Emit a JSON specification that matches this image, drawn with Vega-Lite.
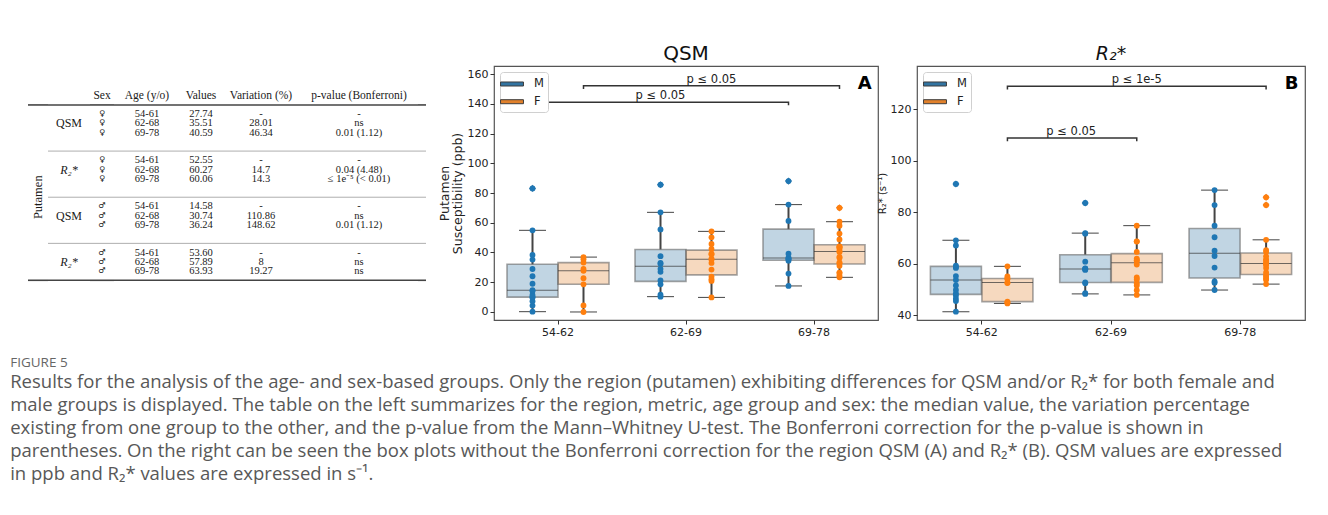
{
"$schema": "https://vega.github.io/schema/vega-lite/v6.json",
"padding": {"left": 10, "top": 43, "right": 5, "bottom": 10},
"bounds": "flush",
"spacing": 0,
"title": {
  "text": "FIGURE 5",
  "subtitle": [
    "Results for the analysis of the age- and sex-based groups. Only the region (putamen) exhibiting differences for QSM and/or R₂* for both female and",
    "male groups is displayed. The table on the left summarizes for the region, metric, age group and sex: the median value, the variation percentage",
    "existing from one group to the other, and the p-value from the Mann–Whitney U-test. The Bonferroni correction for the p-value is shown in",
    "parentheses. On the right can be seen the box plots without the Bonferroni correction for the region QSM (A) and R₂* (B). QSM values are expressed",
    "in ppb and R₂* values are expressed in s⁻¹."
  ],
  "orient": "bottom", "anchor": "start", "frame": "bounds", "offset": 18, "dx": -17,
  "font": "Open Sans", "fontSize": 13.5, "fontWeight": "normal", "color": "#666",
  "subtitleFont": "Open Sans", "subtitleFontSize": 18.5, "subtitleColor": "#585858", "subtitleLineHeight": 23, "subtitlePadding": 4
},
"datasets": {
  "tbl": [
    {"c":"hd","l":"h","t":"Sex","col":"sex"},{"c":"hd","l":"h","t":"Age (y/o)","col":"age"},{"c":"hd","l":"h","t":"Values","col":"val"},{"c":"hd","l":"h","t":"Variation (%)","col":"var"},{"c":"hd","l":"h","t":"p-value (Bonferroni)","col":"pv"},
    {"c":"put","l":"s4","t":"Putamen"},
    {"c":"met","l":"qf2","t":"QSM"},{"c":"met","l":"rf2","t":"R₂*"},{"c":"met","l":"qm2","t":"QSM"},{"c":"met","l":"rm2","t":"R₂*"},
    {"c":"sx","l":"qf1","t":"♀"},{"c":"sx","l":"qf2","t":"♀"},{"c":"sx","l":"qf3","t":"♀"},
    {"c":"sx","l":"rf1","t":"♀"},{"c":"sx","l":"rf2","t":"♀"},{"c":"sx","l":"rf3","t":"♀"},
    {"c":"sx","l":"qm1","t":"♂"},{"c":"sx","l":"qm2","t":"♂"},{"c":"sx","l":"qm3","t":"♂"},
    {"c":"sx","l":"rm1","t":"♂"},{"c":"sx","l":"rm2","t":"♂"},{"c":"sx","l":"rm3","t":"♂"},
    {"c":"age","l":"qf1","t":"54-61"},{"c":"age","l":"qf2","t":"62-68"},{"c":"age","l":"qf3","t":"69-78"},
    {"c":"age","l":"rf1","t":"54-61"},{"c":"age","l":"rf2","t":"62-68"},{"c":"age","l":"rf3","t":"69-78"},
    {"c":"age","l":"qm1","t":"54-61"},{"c":"age","l":"qm2","t":"62-68"},{"c":"age","l":"qm3","t":"69-78"},
    {"c":"age","l":"rm1","t":"54-61"},{"c":"age","l":"rm2","t":"62-68"},{"c":"age","l":"rm3","t":"69-78"},
    {"c":"val","l":"qf1","t":"27.74"},{"c":"val","l":"qf2","t":"35.51"},{"c":"val","l":"qf3","t":"40.59"},
    {"c":"val","l":"rf1","t":"52.55"},{"c":"val","l":"rf2","t":"60.27"},{"c":"val","l":"rf3","t":"60.06"},
    {"c":"val","l":"qm1","t":"14.58"},{"c":"val","l":"qm2","t":"30.74"},{"c":"val","l":"qm3","t":"36.24"},
    {"c":"val","l":"rm1","t":"53.60"},{"c":"val","l":"rm2","t":"57.89"},{"c":"val","l":"rm3","t":"63.93"},
    {"c":"var","l":"qf1","t":"-"},{"c":"var","l":"qf2","t":"28.01"},{"c":"var","l":"qf3","t":"46.34"},
    {"c":"var","l":"rf1","t":"-"},{"c":"var","l":"rf2","t":"14.7"},{"c":"var","l":"rf3","t":"14.3"},
    {"c":"var","l":"qm1","t":"-"},{"c":"var","l":"qm2","t":"110.86"},{"c":"var","l":"qm3","t":"148.62"},
    {"c":"var","l":"rm1","t":"-"},{"c":"var","l":"rm2","t":"8"},{"c":"var","l":"rm3","t":"19.27"},
    {"c":"pv","l":"qf1","t":"-"},{"c":"pv","l":"qf2","t":"ns"},{"c":"pv","l":"qf3","t":"0.01 (1.12)"},
    {"c":"pv","l":"rf1","t":"-"},{"c":"pv","l":"rf2","t":"0.04 (4.48)"},{"c":"pv","l":"rf3","t":"≤ 1e⁻⁵ (< 0.01)"},
    {"c":"pv","l":"qm1","t":"-"},{"c":"pv","l":"qm2","t":"ns"},{"c":"pv","l":"qm3","t":"0.01 (1.12)"},
    {"c":"pv","l":"rm1","t":"-"},{"c":"pv","l":"rm2","t":"ns"},{"c":"pv","l":"rm3","t":"ns"}
  ],
  "rules": [
    {"l":"sp0","k":"thick"},{"l":"s2","k":"thin"},{"l":"s4","k":"thin"},{"l":"s6","k":"thin"},{"l":"se","k":"thick"}
  ],
  "qsm": [
    {"a":"54-62","s":"M","v":0.2},{"a":"54-62","s":"M","v":4.3},{"a":"54-62","s":"M","v":7.2},{"a":"54-62","s":"M","v":9.8},{"a":"54-62","s":"M","v":10.1},{"a":"54-62","s":"M","v":11.4},{"a":"54-62","s":"M","v":14.1},{"a":"54-62","s":"M","v":14.6},{"a":"54-62","s":"M","v":19.0},{"a":"54-62","s":"M","v":24.0},{"a":"54-62","s":"M","v":28.9},{"a":"54-62","s":"M","v":35.2},{"a":"54-62","s":"M","v":38.3},{"a":"54-62","s":"M","v":54.9},{"a":"54-62","s":"M","v":83.1},
    {"a":"54-62","s":"F","v":0.0},{"a":"54-62","s":"F","v":4.4},{"a":"54-62","s":"F","v":18.6},{"a":"54-62","s":"F","v":22.7},{"a":"54-62","s":"F","v":27.7},{"a":"54-62","s":"F","v":28.9},{"a":"54-62","s":"F","v":33.2},{"a":"54-62","s":"F","v":35.4},{"a":"54-62","s":"F","v":36.9},
    {"a":"62-69","s":"M","v":10.3},{"a":"62-69","s":"M","v":11.6},{"a":"62-69","s":"M","v":18.6},{"a":"62-69","s":"M","v":21.2},{"a":"62-69","s":"M","v":27.0},{"a":"62-69","s":"M","v":29.0},{"a":"62-69","s":"M","v":32.5},{"a":"62-69","s":"M","v":33.0},{"a":"62-69","s":"M","v":37.5},{"a":"62-69","s":"M","v":55.5},{"a":"62-69","s":"M","v":67.0},{"a":"62-69","s":"M","v":85.6},
    {"a":"62-69","s":"F","v":9.8},{"a":"62-69","s":"F","v":20.9},{"a":"62-69","s":"F","v":22.0},{"a":"62-69","s":"F","v":23.8},{"a":"62-69","s":"F","v":28.5},{"a":"62-69","s":"F","v":33.0},{"a":"62-69","s":"F","v":35.2},{"a":"62-69","s":"F","v":35.8},{"a":"62-69","s":"F","v":38.8},{"a":"62-69","s":"F","v":39.2},{"a":"62-69","s":"F","v":42.4},{"a":"62-69","s":"F","v":45.7},{"a":"62-69","s":"F","v":50.2},{"a":"62-69","s":"F","v":54.2},
    {"a":"69-78","s":"M","v":17.5},{"a":"69-78","s":"M","v":25.8},{"a":"69-78","s":"M","v":34.5},{"a":"69-78","s":"M","v":35.5},{"a":"69-78","s":"M","v":36.0},{"a":"69-78","s":"M","v":36.5},{"a":"69-78","s":"M","v":39.2},{"a":"69-78","s":"M","v":61.2},{"a":"69-78","s":"M","v":72.2},{"a":"69-78","s":"M","v":88.0},
    {"a":"69-78","s":"F","v":23.3},{"a":"69-78","s":"F","v":24.6},{"a":"69-78","s":"F","v":26.3},{"a":"69-78","s":"F","v":26.5},{"a":"69-78","s":"F","v":31.0},{"a":"69-78","s":"F","v":32.7},{"a":"69-78","s":"F","v":33.3},{"a":"69-78","s":"F","v":36.5},{"a":"69-78","s":"F","v":37.0},{"a":"69-78","s":"F","v":40.3},{"a":"69-78","s":"F","v":40.9},{"a":"69-78","s":"F","v":42.5},{"a":"69-78","s":"F","v":43.6},{"a":"69-78","s":"F","v":43.8},{"a":"69-78","s":"F","v":44.0},{"a":"69-78","s":"F","v":48.8},{"a":"69-78","s":"F","v":52.7},{"a":"69-78","s":"F","v":58.0},{"a":"69-78","s":"F","v":60.7},{"a":"69-78","s":"F","v":70.0}
  ],
  "r2": [
    {"a":"54-62","s":"M","v":41.3},{"a":"54-62","s":"M","v":45.4},{"a":"54-62","s":"M","v":46.3},{"a":"54-62","s":"M","v":47.6},{"a":"54-62","s":"M","v":48.4},{"a":"54-62","s":"M","v":49.7},{"a":"54-62","s":"M","v":51.5},{"a":"54-62","s":"M","v":53.6},{"a":"54-62","s":"M","v":55.1},{"a":"54-62","s":"M","v":58.3},{"a":"54-62","s":"M","v":58.6},{"a":"54-62","s":"M","v":59.2},{"a":"54-62","s":"M","v":67.0},{"a":"54-62","s":"M","v":69.0},{"a":"54-62","s":"M","v":90.9},
    {"a":"54-62","s":"F","v":44.5},{"a":"54-62","s":"F","v":44.9},{"a":"54-62","s":"F","v":45.2},{"a":"54-62","s":"F","v":52.4},{"a":"54-62","s":"F","v":52.6},{"a":"54-62","s":"F","v":54.0},{"a":"54-62","s":"F","v":54.2},{"a":"54-62","s":"F","v":55.0},{"a":"54-62","s":"F","v":58.9},
    {"a":"62-69","s":"M","v":48.2},{"a":"62-69","s":"M","v":48.5},{"a":"62-69","s":"M","v":52.3},{"a":"62-69","s":"M","v":52.7},{"a":"62-69","s":"M","v":57.5},{"a":"62-69","s":"M","v":57.8},{"a":"62-69","s":"M","v":58.0},{"a":"62-69","s":"M","v":58.1},{"a":"62-69","s":"M","v":60.7},{"a":"62-69","s":"M","v":71.6},{"a":"62-69","s":"M","v":71.8},{"a":"62-69","s":"M","v":83.5},
    {"a":"62-69","s":"F","v":47.8},{"a":"62-69","s":"F","v":49.6},{"a":"62-69","s":"F","v":51.5},{"a":"62-69","s":"F","v":52.3},{"a":"62-69","s":"F","v":53.8},{"a":"62-69","s":"F","v":54.6},{"a":"62-69","s":"F","v":59.6},{"a":"62-69","s":"F","v":61.0},{"a":"62-69","s":"F","v":61.3},{"a":"62-69","s":"F","v":61.9},{"a":"62-69","s":"F","v":64.5},{"a":"62-69","s":"F","v":68.5},{"a":"62-69","s":"F","v":68.6},{"a":"62-69","s":"F","v":74.7},
    {"a":"69-78","s":"M","v":49.7},{"a":"69-78","s":"M","v":52.5},{"a":"69-78","s":"M","v":53.0},{"a":"69-78","s":"M","v":58.4},{"a":"69-78","s":"M","v":62.9},{"a":"69-78","s":"M","v":65.0},{"a":"69-78","s":"M","v":70.2},{"a":"69-78","s":"M","v":74.7},{"a":"69-78","s":"M","v":82.7},{"a":"69-78","s":"M","v":88.5},
    {"a":"69-78","s":"F","v":52.0},{"a":"69-78","s":"F","v":53.7},{"a":"69-78","s":"F","v":54.2},{"a":"69-78","s":"F","v":55.0},{"a":"69-78","s":"F","v":55.5},{"a":"69-78","s":"F","v":56.5},{"a":"69-78","s":"F","v":58.3},{"a":"69-78","s":"F","v":59.5},{"a":"69-78","s":"F","v":59.8},{"a":"69-78","s":"F","v":60.3},{"a":"69-78","s":"F","v":61.2},{"a":"69-78","s":"F","v":61.6},{"a":"69-78","s":"F","v":62.8},{"a":"69-78","s":"F","v":64.5},{"a":"69-78","s":"F","v":65.2},{"a":"69-78","s":"F","v":69.2},{"a":"69-78","s":"F","v":82.7},{"a":"69-78","s":"F","v":85.7}
  ],
  "qsmBr": [
    {"b":1,"i":0,"a":"54-62","s":"F","v":150.0},{"b":1,"i":1,"a":"54-62","s":"F","v":152.1},{"b":1,"i":2,"a":"69-78","s":"F","v":152.1},{"b":1,"i":3,"a":"69-78","s":"F","v":150.0},
    {"b":2,"i":0,"a":"54-62","s":"M","v":139.0},{"b":2,"i":1,"a":"54-62","s":"M","v":141.0},{"b":2,"i":2,"a":"69-78","s":"M","v":141.0},{"b":2,"i":3,"a":"69-78","s":"M","v":139.0}
  ],
  "qsmLab": [
    {"a":"62-69","s":"F","v":152.1,"t":"p ≤ 0.05"},{"a":"62-69","s":"M","v":141.0,"t":"p ≤ 0.05"}
  ],
  "r2Br": [
    {"b":1,"i":0,"a":"54-62","s":"F","v":127.6},{"b":1,"i":1,"a":"54-62","s":"F","v":128.8},{"b":1,"i":2,"a":"69-78","s":"F","v":128.8},{"b":1,"i":3,"a":"69-78","s":"F","v":127.6},
    {"b":2,"i":0,"a":"54-62","s":"F","v":107.5},{"b":2,"i":1,"a":"54-62","s":"F","v":108.7},{"b":2,"i":2,"a":"62-69","s":"F","v":108.7},{"b":2,"i":3,"a":"62-69","s":"F","v":107.5}
  ],
  "r2Lab": [
    {"a":"62-69","s":"F","v":128.8,"t":"p ≤ 1e-5"}
  ],
  "r2Lab2": [
    {"a":"54-62","v":108.7,"t":"p ≤ 0.05"}
  ]
},
"resolve": {"scale": {"color": "independent", "xOffset": "independent", "y": "independent", "x": "independent"}, "legend": {"color": "independent"}},
"hconcat": [
  {"width": 20, "height": 244, "view": {"stroke": null}, "layer": [
    {"data": {"name": "tbl"}, "transform": [{"filter": "datum.c==='put'"}], "mark": {"type": "text", "font": "Liberation Serif", "fontSize": 12.5, "color": "#1a1a1a", "angle": 270, "baseline": "middle", "align": "center"},
     "encoding": {"y": {"field": "l", "type": "ordinal", "scale": {"type":"point","domain":["t1","t2","t3","h","sp0","qf1","qf2","qf3","s1","s2","rf1","rf2","rf3","s3","s4","qm1","qm2","qm3","s5","s6","rm1","rm2","rm3","se","b1","b2","b3"],"padding":0.22}, "axis": null}, "text": {"field": "t"}}},
    {"data": {"name": "rules"}, "transform": [{"filter": "datum.k==='thick'"}], "mark": {"type": "rule", "color": "#444", "strokeWidth": 1.6},
     "encoding": {"y": {"field": "l", "type": "ordinal", "scale": {"type":"point","domain":["t1","t2","t3","h","sp0","qf1","qf2","qf3","s1","s2","rf1","rf2","rf3","s3","s4","qm1","qm2","qm3","s5","s6","rm1","rm2","rm3","se","b1","b2","b3"],"padding":0.22}, "axis": null}}}
  ]},
  {"width": 42, "height": 244, "view": {"stroke": null}, "layer": [
    {"data": {"name": "tbl"}, "transform": [{"filter": "datum.c==='met' && datum.t==='QSM'"}], "mark": {"type": "text", "font": "Liberation Serif", "fontSize": 12, "color": "#1a1a1a"},
     "encoding": {"y": {"field": "l", "type": "ordinal", "scale": {"type":"point","domain":["t1","t2","t3","h","sp0","qf1","qf2","qf3","s1","s2","rf1","rf2","rf3","s3","s4","qm1","qm2","qm3","s5","s6","rm1","rm2","rm3","se","b1","b2","b3"],"padding":0.22}, "axis": null}, "text": {"field": "t"}}},
    {"data": {"name": "tbl"}, "transform": [{"filter": "datum.c==='met' && datum.t!=='QSM'"}], "mark": {"type": "text", "font": "Liberation Serif", "fontSize": 12, "fontStyle": "italic", "color": "#1a1a1a"},
     "encoding": {"y": {"field": "l", "type": "ordinal", "scale": {"type":"point","domain":["t1","t2","t3","h","sp0","qf1","qf2","qf3","s1","s2","rf1","rf2","rf3","s3","s4","qm1","qm2","qm3","s5","s6","rm1","rm2","rm3","se","b1","b2","b3"],"padding":0.22}, "axis": null}, "text": {"field": "t"}}},
    {"data": {"name": "rules"}, "transform": [{"filter": "datum.k==='thick'"}], "mark": {"type": "rule", "color": "#444", "strokeWidth": 1.6},
     "encoding": {"y": {"field": "l", "type": "ordinal", "scale": {"type":"point","domain":["t1","t2","t3","h","sp0","qf1","qf2","qf3","s1","s2","rf1","rf2","rf3","s3","s4","qm1","qm2","qm3","s5","s6","rm1","rm2","rm3","se","b1","b2","b3"],"padding":0.22}, "axis": null}}},
    {"data": {"name": "rules"}, "transform": [{"filter": "datum.k==='thin'"}], "mark": {"type": "rule", "color": "#999", "strokeWidth": 0.8},
     "encoding": {"y": {"field": "l", "type": "ordinal", "scale": {"type":"point","domain":["t1","t2","t3","h","sp0","qf1","qf2","qf3","s1","s2","rf1","rf2","rf3","s3","s4","qm1","qm2","qm3","s5","s6","rm1","rm2","rm3","se","b1","b2","b3"],"padding":0.22}, "axis": null}}}
  ]},
  {"width": 24, "height": 244, "view": {"stroke": null}, "layer": [
    {"data": {"name": "tbl"}, "transform": [{"filter": "datum.col==='sex'"}], "mark": {"type": "text", "font": "Liberation Serif", "fontSize": 11.5, "color": "#1a1a1a"},
     "encoding": {"y": {"field": "l", "type": "ordinal", "scale": {"type":"point","domain":["t1","t2","t3","h","sp0","qf1","qf2","qf3","s1","s2","rf1","rf2","rf3","s3","s4","qm1","qm2","qm3","s5","s6","rm1","rm2","rm3","se","b1","b2","b3"],"padding":0.22}, "axis": null}, "text": {"field": "t"}}},
    {"data": {"name": "tbl"}, "transform": [{"filter": "datum.c==='sx'"}], "mark": {"type": "text", "font": "DejaVu Sans", "fontSize": 8, "color": "#1a1a1a"},
     "encoding": {"y": {"field": "l", "type": "ordinal", "scale": {"type":"point","domain":["t1","t2","t3","h","sp0","qf1","qf2","qf3","s1","s2","rf1","rf2","rf3","s3","s4","qm1","qm2","qm3","s5","s6","rm1","rm2","rm3","se","b1","b2","b3"],"padding":0.22}, "axis": null}, "text": {"field": "t"}}},
    {"data": {"name": "rules"}, "transform": [{"filter": "datum.k==='thick'"}], "mark": {"type": "rule", "color": "#444", "strokeWidth": 1.6},
     "encoding": {"y": {"field": "l", "type": "ordinal", "scale": {"type":"point","domain":["t1","t2","t3","h","sp0","qf1","qf2","qf3","s1","s2","rf1","rf2","rf3","s3","s4","qm1","qm2","qm3","s5","s6","rm1","rm2","rm3","se","b1","b2","b3"],"padding":0.22}, "axis": null}}},
    {"data": {"name": "rules"}, "transform": [{"filter": "datum.k==='thin'"}], "mark": {"type": "rule", "color": "#999", "strokeWidth": 0.8},
     "encoding": {"y": {"field": "l", "type": "ordinal", "scale": {"type":"point","domain":["t1","t2","t3","h","sp0","qf1","qf2","qf3","s1","s2","rf1","rf2","rf3","s3","s4","qm1","qm2","qm3","s5","s6","rm1","rm2","rm3","se","b1","b2","b3"],"padding":0.22}, "axis": null}}}
  ]},
  {"width": 66, "height": 244, "view": {"stroke": null}, "layer": [
    {"data": {"name": "tbl"}, "transform": [{"filter": "datum.col==='age'"}], "mark": {"type": "text", "font": "Liberation Serif", "fontSize": 11.5, "color": "#1a1a1a"},
     "encoding": {"y": {"field": "l", "type": "ordinal", "scale": {"type":"point","domain":["t1","t2","t3","h","sp0","qf1","qf2","qf3","s1","s2","rf1","rf2","rf3","s3","s4","qm1","qm2","qm3","s5","s6","rm1","rm2","rm3","se","b1","b2","b3"],"padding":0.22}, "axis": null}, "text": {"field": "t"}}},
    {"data": {"name": "tbl"}, "transform": [{"filter": "datum.c==='age'"}], "mark": {"type": "text", "font": "Liberation Serif", "fontSize": 10.5, "color": "#1a1a1a"},
     "encoding": {"y": {"field": "l", "type": "ordinal", "scale": {"type":"point","domain":["t1","t2","t3","h","sp0","qf1","qf2","qf3","s1","s2","rf1","rf2","rf3","s3","s4","qm1","qm2","qm3","s5","s6","rm1","rm2","rm3","se","b1","b2","b3"],"padding":0.22}, "axis": null}, "text": {"field": "t"}}},
    {"data": {"name": "rules"}, "transform": [{"filter": "datum.k==='thick'"}], "mark": {"type": "rule", "color": "#444", "strokeWidth": 1.6},
     "encoding": {"y": {"field": "l", "type": "ordinal", "scale": {"type":"point","domain":["t1","t2","t3","h","sp0","qf1","qf2","qf3","s1","s2","rf1","rf2","rf3","s3","s4","qm1","qm2","qm3","s5","s6","rm1","rm2","rm3","se","b1","b2","b3"],"padding":0.22}, "axis": null}}},
    {"data": {"name": "rules"}, "transform": [{"filter": "datum.k==='thin'"}], "mark": {"type": "rule", "color": "#999", "strokeWidth": 0.8},
     "encoding": {"y": {"field": "l", "type": "ordinal", "scale": {"type":"point","domain":["t1","t2","t3","h","sp0","qf1","qf2","qf3","s1","s2","rf1","rf2","rf3","s3","s4","qm1","qm2","qm3","s5","s6","rm1","rm2","rm3","se","b1","b2","b3"],"padding":0.22}, "axis": null}}}
  ]},
  {"width": 42, "height": 244, "view": {"stroke": null}, "layer": [
    {"data": {"name": "tbl"}, "transform": [{"filter": "datum.col==='val'"}], "mark": {"type": "text", "font": "Liberation Serif", "fontSize": 11.5, "color": "#1a1a1a"},
     "encoding": {"y": {"field": "l", "type": "ordinal", "scale": {"type":"point","domain":["t1","t2","t3","h","sp0","qf1","qf2","qf3","s1","s2","rf1","rf2","rf3","s3","s4","qm1","qm2","qm3","s5","s6","rm1","rm2","rm3","se","b1","b2","b3"],"padding":0.22}, "axis": null}, "text": {"field": "t"}}},
    {"data": {"name": "tbl"}, "transform": [{"filter": "datum.c==='val'"}], "mark": {"type": "text", "font": "Liberation Serif", "fontSize": 10.5, "color": "#1a1a1a"},
     "encoding": {"y": {"field": "l", "type": "ordinal", "scale": {"type":"point","domain":["t1","t2","t3","h","sp0","qf1","qf2","qf3","s1","s2","rf1","rf2","rf3","s3","s4","qm1","qm2","qm3","s5","s6","rm1","rm2","rm3","se","b1","b2","b3"],"padding":0.22}, "axis": null}, "text": {"field": "t"}}},
    {"data": {"name": "rules"}, "transform": [{"filter": "datum.k==='thick'"}], "mark": {"type": "rule", "color": "#444", "strokeWidth": 1.6},
     "encoding": {"y": {"field": "l", "type": "ordinal", "scale": {"type":"point","domain":["t1","t2","t3","h","sp0","qf1","qf2","qf3","s1","s2","rf1","rf2","rf3","s3","s4","qm1","qm2","qm3","s5","s6","rm1","rm2","rm3","se","b1","b2","b3"],"padding":0.22}, "axis": null}}},
    {"data": {"name": "rules"}, "transform": [{"filter": "datum.k==='thin'"}], "mark": {"type": "rule", "color": "#999", "strokeWidth": 0.8},
     "encoding": {"y": {"field": "l", "type": "ordinal", "scale": {"type":"point","domain":["t1","t2","t3","h","sp0","qf1","qf2","qf3","s1","s2","rf1","rf2","rf3","s3","s4","qm1","qm2","qm3","s5","s6","rm1","rm2","rm3","se","b1","b2","b3"],"padding":0.22}, "axis": null}}}
  ]},
  {"width": 78, "height": 244, "view": {"stroke": null}, "layer": [
    {"data": {"name": "tbl"}, "transform": [{"filter": "datum.col==='var'"}], "mark": {"type": "text", "font": "Liberation Serif", "fontSize": 11.5, "color": "#1a1a1a"},
     "encoding": {"y": {"field": "l", "type": "ordinal", "scale": {"type":"point","domain":["t1","t2","t3","h","sp0","qf1","qf2","qf3","s1","s2","rf1","rf2","rf3","s3","s4","qm1","qm2","qm3","s5","s6","rm1","rm2","rm3","se","b1","b2","b3"],"padding":0.22}, "axis": null}, "text": {"field": "t"}}},
    {"data": {"name": "tbl"}, "transform": [{"filter": "datum.c==='var'"}], "mark": {"type": "text", "font": "Liberation Serif", "fontSize": 10.5, "color": "#1a1a1a"},
     "encoding": {"y": {"field": "l", "type": "ordinal", "scale": {"type":"point","domain":["t1","t2","t3","h","sp0","qf1","qf2","qf3","s1","s2","rf1","rf2","rf3","s3","s4","qm1","qm2","qm3","s5","s6","rm1","rm2","rm3","se","b1","b2","b3"],"padding":0.22}, "axis": null}, "text": {"field": "t"}}},
    {"data": {"name": "rules"}, "transform": [{"filter": "datum.k==='thick'"}], "mark": {"type": "rule", "color": "#444", "strokeWidth": 1.6},
     "encoding": {"y": {"field": "l", "type": "ordinal", "scale": {"type":"point","domain":["t1","t2","t3","h","sp0","qf1","qf2","qf3","s1","s2","rf1","rf2","rf3","s3","s4","qm1","qm2","qm3","s5","s6","rm1","rm2","rm3","se","b1","b2","b3"],"padding":0.22}, "axis": null}}},
    {"data": {"name": "rules"}, "transform": [{"filter": "datum.k==='thin'"}], "mark": {"type": "rule", "color": "#999", "strokeWidth": 0.8},
     "encoding": {"y": {"field": "l", "type": "ordinal", "scale": {"type":"point","domain":["t1","t2","t3","h","sp0","qf1","qf2","qf3","s1","s2","rf1","rf2","rf3","s3","s4","qm1","qm2","qm3","s5","s6","rm1","rm2","rm3","se","b1","b2","b3"],"padding":0.22}, "axis": null}}}
  ]},
  {"width": 118, "height": 244, "view": {"stroke": null}, "layer": [
    {"data": {"name": "tbl"}, "transform": [{"filter": "datum.col==='pv'"}], "mark": {"type": "text", "font": "Liberation Serif", "fontSize": 11.5, "color": "#1a1a1a"},
     "encoding": {"y": {"field": "l", "type": "ordinal", "scale": {"type":"point","domain":["t1","t2","t3","h","sp0","qf1","qf2","qf3","s1","s2","rf1","rf2","rf3","s3","s4","qm1","qm2","qm3","s5","s6","rm1","rm2","rm3","se","b1","b2","b3"],"padding":0.22}, "axis": null}, "text": {"field": "t"}}},
    {"data": {"name": "tbl"}, "transform": [{"filter": "datum.c==='pv'"}], "mark": {"type": "text", "font": "Liberation Serif", "fontSize": 10.5, "color": "#1a1a1a"},
     "encoding": {"y": {"field": "l", "type": "ordinal", "scale": {"type":"point","domain":["t1","t2","t3","h","sp0","qf1","qf2","qf3","s1","s2","rf1","rf2","rf3","s3","s4","qm1","qm2","qm3","s5","s6","rm1","rm2","rm3","se","b1","b2","b3"],"padding":0.22}, "axis": null}, "text": {"field": "t"}}},
    {"data": {"name": "rules"}, "transform": [{"filter": "datum.k==='thick'"}], "mark": {"type": "rule", "color": "#444", "strokeWidth": 1.6},
     "encoding": {"y": {"field": "l", "type": "ordinal", "scale": {"type":"point","domain":["t1","t2","t3","h","sp0","qf1","qf2","qf3","s1","s2","rf1","rf2","rf3","s3","s4","qm1","qm2","qm3","s5","s6","rm1","rm2","rm3","se","b1","b2","b3"],"padding":0.22}, "axis": null}}},
    {"data": {"name": "rules"}, "transform": [{"filter": "datum.k==='thin'"}], "mark": {"type": "rule", "color": "#999", "strokeWidth": 0.8},
     "encoding": {"y": {"field": "l", "type": "ordinal", "scale": {"type":"point","domain":["t1","t2","t3","h","sp0","qf1","qf2","qf3","s1","s2","rf1","rf2","rf3","s3","s4","qm1","qm2","qm3","s5","s6","rm1","rm2","rm3","se","b1","b2","b3"],"padding":0.22}, "axis": null}}}
  ]},
  {"width": 8, "height": 244, "view": {"stroke": null}, "layer": [
    {"data": {"name": "rules"}, "transform": [{"filter": "datum.k==='thick'"}], "mark": {"type": "rule", "color": "#444", "strokeWidth": 1.6},
     "encoding": {"y": {"field": "l", "type": "ordinal", "scale": {"type":"point","domain":["t1","t2","t3","h","sp0","qf1","qf2","qf3","s1","s2","rf1","rf2","rf3","s3","s4","qm1","qm2","qm3","s5","s6","rm1","rm2","rm3","se","b1","b2","b3"],"padding":0.22}, "axis": null}}},
    {"data": {"name": "rules"}, "transform": [{"filter": "datum.k==='thin'"}], "mark": {"type": "rule", "color": "#999", "strokeWidth": 0.8},
     "encoding": {"y": {"field": "l", "type": "ordinal", "scale": {"type":"point","domain":["t1","t2","t3","h","sp0","qf1","qf2","qf3","s1","s2","rf1","rf2","rf3","s3","s4","qm1","qm2","qm3","s5","s6","rm1","rm2","rm3","se","b1","b2","b3"],"padding":0.22}, "axis": null}}}
  ]},
  {"width": 68, "height": 10, "view": {"stroke": null}, "data": {"values": []}, "mark": "point"},
  {
    "width": 384, "height": 254,
    "view": {"stroke": "#555", "strokeWidth": 1.2},
    "title": {"text": "QSM", "fontSize": 20, "fontWeight": "normal", "color": "#111", "offset": 2},
    "layer": [
      {"data": {"name": "qsm"},
       "mark": {"type": "boxplot", "extent": 1.5, "size": 51,
         "box": {"fillOpacity": 0.3, "stroke": "#666", "strokeOpacity": 0.6, "strokeWidth": 1.6},
         "median": {"color": "#333", "strokeWidth": 1.8},
         "rule": {"color": "#444", "strokeWidth": 2},
         "ticks": {"color": "#444", "size": 27, "strokeWidth": 2},
         "outliers": {"shape": "diamond", "size": 50, "filled": true, "opacity": 1}},
       "encoding": {
         "x": {"field": "a", "type": "nominal", "scale": {"domain": ["54-62","62-69","69-78"], "paddingInner": 0, "paddingOuter": 0}, "axis": {"title": null, "labelAngle": 0}},
         "xOffset": {"field": "s", "type": "nominal", "scale": {"domain": ["M","F"], "paddingInner": 0, "paddingOuter": 0.255}},
         "y": {"field": "v", "type": "quantitative", "scale": {"domain": [-5.4, 165.4], "nice": false, "zero": false},
               "axis": {"values": [0,20,40,60,80,100,120,140,160], "tickCount": 9, "labelOverlap": false, "labelSeparation": 0, "title": ["Putamen", "Susceptibility (ppb)"], "titleFontSize": 12.5, "titleLineHeight": 13, "titlePadding": 3}},
         "color": {"field": "s", "type": "nominal", "scale": {"domain": ["M","F"], "range": ["#3274a1","#e1812c"]},
           "legend": {"title": null, "orient": "top-left", "offset": 6, "symbolType": "M-1.6,-0.28H1.6V0.28H-1.6Z", "symbolSize": 205, "symbolStrokeColor": "#3d3d3d", "symbolStrokeWidth": 1, "symbolOpacity": 1, "labelOffset": 14, "labelFontSize": 11.5, "labelColor": "#222", "padding": 4, "rowPadding": 3.7, "strokeColor": "#d0d0d0", "fillColor": "white", "cornerRadius": 3}}
       }},
      {"data": {"name": "qsm"},
       "mark": {"type": "circle", "size": 34, "opacity": 1},
       "encoding": {
         "x": {"field": "a", "type": "nominal"},
         "xOffset": {"field": "s", "type": "nominal"},
         "y": {"field": "v", "type": "quantitative", "axis": {"values": [0,20,40,60,80,100,120,140,160], "tickCount": 9, "labelOverlap": false, "labelSeparation": 0, "title": ["Putamen", "Susceptibility (ppb)"], "titleFontSize": 12.5, "titleLineHeight": 13, "titlePadding": 3}},
         "color": {"condition": {"test": "datum.s === 'M'", "value": "#1f77b4"}, "value": "#ff7f0e"}
       }},
      {"data": {"name": "qsmBr"},
       "mark": {"type": "line", "color": "#333", "strokeWidth": 1.5},
       "encoding": {
         "x": {"field": "a", "type": "nominal"},
         "xOffset": {"field": "s", "type": "nominal"},
         "y": {"field": "v", "type": "quantitative"},
         "detail": {"field": "b"},
         "order": {"field": "i"}
       }},
      {"data": {"name": "qsmLab"},
       "mark": {"type": "text", "baseline": "bottom", "dy": -1, "fontSize": 11.5, "color": "#222"},
       "encoding": {
         "x": {"field": "a", "type": "nominal"},
         "xOffset": {"field": "s", "type": "nominal"},
         "y": {"field": "v", "type": "quantitative"},
         "text": {"field": "t"}
       }},
      {"data": {"values": [{}]},
       "mark": {"type": "text", "text": "A", "align": "right", "baseline": "middle", "fontSize": 18, "fontWeight": "bold", "color": "#000"},
       "encoding": {"x": {"datum": "69-78", "bandPosition": 0.95}, "y": {"datum": 153}}}
    ]
  },
  {"width": 39, "height": 10, "view": {"stroke": null}, "data": {"values": []}, "mark": "point"},
  {
    "width": 388, "height": 254,
    "view": {"stroke": "#555", "strokeWidth": 1.2},
    "title": {"text": "R₂*", "fontSize": 19, "fontStyle": "italic", "fontWeight": "normal", "color": "#111", "offset": 2},
    "layer": [
      {"data": {"name": "r2"},
       "mark": {"type": "boxplot", "extent": 1.5, "size": 51,
         "box": {"fillOpacity": 0.3, "stroke": "#666", "strokeOpacity": 0.6, "strokeWidth": 1.6},
         "median": {"color": "#333", "strokeWidth": 1.8},
         "rule": {"color": "#444", "strokeWidth": 2},
         "ticks": {"color": "#444", "size": 27, "strokeWidth": 2},
         "outliers": {"shape": "diamond", "size": 50, "filled": true, "opacity": 1}},
       "encoding": {
         "x": {"field": "a", "type": "nominal", "scale": {"domain": ["54-62","62-69","69-78"], "paddingInner": 0, "paddingOuter": 0}, "axis": {"title": null, "labelAngle": 0}},
         "xOffset": {"field": "s", "type": "nominal", "scale": {"domain": ["M","F"], "paddingInner": 0, "paddingOuter": 0.255}},
         "y": {"field": "v", "type": "quantitative", "scale": {"domain": [38.06, 136.7], "nice": false, "zero": false},
               "axis": {"values": [40,60,80,100,120], "labelOverlap": false, "title": "R₂* (s⁻¹)", "titleFontSize": 10, "titlePadding": 3}},
         "color": {"field": "s", "type": "nominal", "scale": {"domain": ["M","F"], "range": ["#3274a1","#e1812c"]},
           "legend": {"title": null, "orient": "top-left", "offset": 6, "symbolType": "M-1.6,-0.28H1.6V0.28H-1.6Z", "symbolSize": 205, "symbolStrokeColor": "#3d3d3d", "symbolStrokeWidth": 1, "symbolOpacity": 1, "labelOffset": 14, "labelFontSize": 11.5, "labelColor": "#222", "padding": 4, "rowPadding": 3.7, "strokeColor": "#d0d0d0", "fillColor": "white", "cornerRadius": 3}}
       }},
      {"data": {"name": "r2"},
       "mark": {"type": "circle", "size": 34, "opacity": 1},
       "encoding": {
         "x": {"field": "a", "type": "nominal"},
         "xOffset": {"field": "s", "type": "nominal"},
         "y": {"field": "v", "type": "quantitative"},
         "color": {"condition": {"test": "datum.s === 'M'", "value": "#1f77b4"}, "value": "#ff7f0e"}
       }},
      {"data": {"name": "r2Br"},
       "mark": {"type": "line", "color": "#333", "strokeWidth": 1.5},
       "encoding": {
         "x": {"field": "a", "type": "nominal"},
         "xOffset": {"field": "s", "type": "nominal"},
         "y": {"field": "v", "type": "quantitative"},
         "detail": {"field": "b"},
         "order": {"field": "i"}
       }},
      {"data": {"name": "r2Lab"},
       "mark": {"type": "text", "baseline": "bottom", "dy": -1, "fontSize": 11.5, "color": "#222"},
       "encoding": {
         "x": {"field": "a", "type": "nominal"},
         "xOffset": {"field": "s", "type": "nominal"},
         "y": {"field": "v", "type": "quantitative"},
         "text": {"field": "t"}
       }},
      {"data": {"name": "r2Lab2"},
       "mark": {"type": "text", "baseline": "bottom", "align": "left", "dy": -1, "fontSize": 11.5, "color": "#222"},
       "encoding": {
         "x": {"field": "a", "type": "nominal", "bandPosition": 1},
         "y": {"field": "v", "type": "quantitative"},
         "text": {"field": "t"}
       }},
      {"data": {"values": [{}]},
       "mark": {"type": "text", "text": "B", "align": "right", "baseline": "middle", "fontSize": 18, "fontWeight": "bold", "color": "#000"},
       "encoding": {"x": {"datum": "69-78", "bandPosition": 0.95}, "y": {"datum": 129.7}}}
    ]
  }
],
"config": {
  "font": "DejaVu Sans",
  "view": {"stroke": null},
  "axis": {"grid": false, "domain": false, "tickColor": "#333", "tickSize": 4, "labelColor": "#222", "labelFontSize": 11, "titleColor": "#222", "titleFontWeight": "normal", "labelPadding": 2, "labelOverlap": false},
  "axisY": {"labelOverlap": false},
  "axisQuantitative": {"labelOverlap": false},
  "title": {"fontWeight": "normal"}
}
}
